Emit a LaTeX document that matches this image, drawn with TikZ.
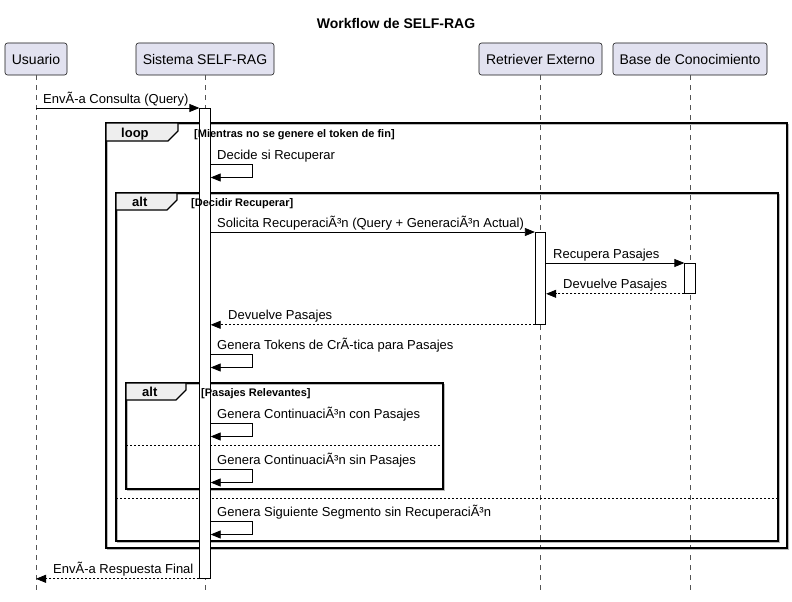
\documentclass[tikz,border=0pt]{standalone}
\usepackage{fontspec}
\setmainfont{Liberation Sans}
\usetikzlibrary{arrows.meta}
\definecolor{partfill}{HTML}{E2E2F0}
\definecolor{partline}{HTML}{181818}
\definecolor{tabfill}{HTML}{EEEEEE}
\definecolor{lifecol}{HTML}{555555}
\begin{document}
\begin{tikzpicture}[x=1pt,y=-1pt,
 part/.style={draw=partline, fill=partfill, rounded corners=2.5pt, minimum height=32pt, inner sep=0pt, font=\fontsize{14}{16}\selectfont, line width=0.6pt},
 life/.style={draw=lifecol, dash pattern=on 5pt off 5pt, line width=0.6pt},
 msg/.style={draw=black, line width=0.8pt, -{Triangle[length=10pt,width=8pt]}},
 ret/.style={msg, dash pattern=on 2pt off 2pt},
 mlabel/.style={anchor=base west, inner sep=0pt, font=\fontsize{13}{15}\selectfont},
 bar/.style={draw=black, fill=white, line width=0.8pt, inner sep=0pt, minimum width=10.5pt, anchor=north},
 frame/.style={draw=black, line width=1.4pt},
 fshadow/.style={draw=gray!55, line width=1.4pt},
 tab/.style={draw=black, fill=tabfill, line width=1.2pt},
 guard/.style={anchor=base west, inner sep=0pt, font=\bfseries\fontsize{11}{13}\selectfont},
 ftitle/.style={anchor=base west, inner sep=0pt, font=\bfseries\fontsize{13}{15}\selectfont},
 sep/.style={draw=black, dash pattern=on 2pt off 2pt, line width=0.8pt}
]
\useasboundingbox (0,0) rectangle (792,602);
\fill[white] (0,0) rectangle (792,602);

% title
\node[anchor=base, inner sep=0pt, font=\bfseries\fontsize{14}{16}\selectfont] (title) at (396,29) {Workflow de SELF-RAG};

% participants
\node[part, minimum width=62pt] (u) at (36,59) {Usuario};
\node[part, minimum width=138pt] (s) at (205,59) {Sistema SELF-RAG};
\node[part, minimum width=123pt] (r) at (540.5,59) {Retriever Externo};
\node[part, minimum width=154pt] (b) at (690,59) {Base de Conocimiento};

% lifelines
\coordinate (uend) at (36,592);
\coordinate (send) at (205,592);
\coordinate (rend) at (540.5,592);
\coordinate (bend) at (690,592);
\draw[life] (u.south) -- (uend);
\draw[life] (s.south) -- (send);
\draw[life] (r.south) -- (rend);
\draw[life] (b.south) -- (bend);

% frames: loop
\draw[fshadow] (107.5,124.5) rectangle (788.5,549.5);
\draw[frame] (106,123) rectangle (787,548);
\draw[tab] (106,123) -- (178,123) -- (178,131) -- (168,141) -- (106,141) -- cycle;
% alt outer
\draw[fshadow] (117.5,194.5) rectangle (779.5,542.5);
\draw[frame] (116,193) rectangle (778,541);
\draw[tab] (116,193) -- (177,193) -- (177,200) -- (167,210) -- (116,210) -- cycle;
% alt inner
\draw[fshadow] (127.5,384.5) rectangle (444.5,490.5);
\draw[frame] (126,383) rectangle (443,489);
\draw[tab] (126,383) -- (186,383) -- (186,390) -- (176,400) -- (126,400) -- cycle;
% separators
\draw[sep] (126,445) -- (443,445);
\draw[sep] (116,498) -- (778,498);

% activation bars
\node[bar, minimum height=470pt] (sbar) at (205,108) {};
\node[bar, minimum height=92pt] (rbar) at (540.5,232) {};
\node[bar, minimum height=30pt] (bbar) at (690,263) {};

% frame labels
\node[ftitle] (lt) at (121,137.5) {loop};
\node[guard] (lg) at (194,137) {[Mientras no se genere el token de fin]};
\node[ftitle] (at1) at (132,206) {alt};
\node[guard] (ag1) at (191,206) {[Decidir Recuperar]};
\node[ftitle] (at2) at (142,396) {alt};
\node[guard] (ag2) at (201,396) {[Pasajes Relevantes]};

% messages
\draw[msg] (u.south |- sbar.north) -- (sbar.north west);
\node[mlabel] (l1) at (43,103) {EnvÃ-a Consulta (Query)};

\newcommand\selfmsg[2]{%
 \node[mlabel] at (217,#1-5) {#2};
 \draw[msg] (sbar.east |- 0,#1) -- (252,#1) -- (252,#1+13.5) -- (sbar.east |- 0,#1+13.5);}

\selfmsg{164}{Decide si Recuperar}

\draw[msg] (sbar.east |- rbar.north) -- (rbar.north west);
\node[mlabel] (l2) at (217,227) {Solicita RecuperaciÃ³n (Query + GeneraciÃ³n Actual)};

\draw[msg] (rbar.east |- bbar.north) -- (bbar.north west);
\node[mlabel] (l3) at (553,258) {Recupera Pasajes};

\draw[ret] (bbar.south west) -- (rbar.east |- bbar.south);
\node[mlabel] (l4) at (563,288.5) {Devuelve Pasajes};

\draw[ret] (rbar.south west) -- (sbar.east |- rbar.south);
\node[mlabel] (l5) at (228,319) {Devuelve Pasajes};

\selfmsg{354}{Genera Tokens de CrÃ-tica para Pasajes}
\selfmsg{423}{Genera ContinuaciÃ³n con Pasajes}
\selfmsg{469}{Genera ContinuaciÃ³n sin Pasajes}
\selfmsg{521}{Genera Siguiente Segmento sin RecuperaciÃ³n}

\draw[ret] (sbar.south west) -- (u.south |- sbar.south);
\node[mlabel] (l6) at (53,573) {EnvÃ-a Respuesta Final};
\end{tikzpicture}
\end{document}
